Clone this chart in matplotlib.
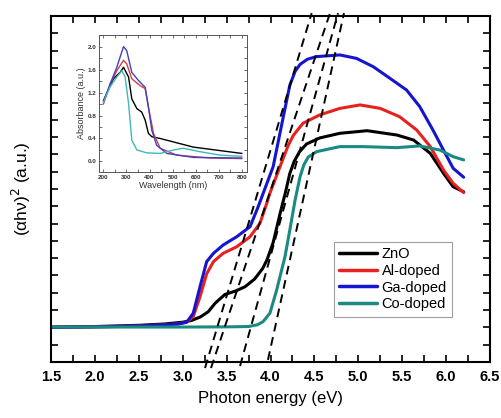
import matplotlib
matplotlib.use("Agg")
import matplotlib.pyplot as plt
from matplotlib.ticker import MultipleLocator

plt.rcParams['font.family'] = ['Liberation Sans', 'DejaVu Sans']

# ---------------- main data ----------------
series_names = ["ZnO", "Al-doped", "Ga-doped", "Co-doped"]
series_colors = ["#000000", "#e8201e", "#1515d0", "#1a8a82"]

zno_e = [1.5, 2.0, 2.5, 2.8, 3.0, 3.1, 3.2, 3.29, 3.37, 3.48, 3.6, 3.71, 3.82, 3.91, 3.96,
         4.03, 4.11, 4.17, 4.22, 4.27, 4.33, 4.41, 4.56, 4.79, 5.10, 5.44, 5.63, 5.82, 5.97, 6.08, 6.20]
zno_y = [2.02, 2.05, 2.12, 2.2, 2.3, 2.4, 2.6, 2.9, 3.4, 3.9, 4.1, 4.35, 4.8, 5.4, 5.9,
         6.9, 8.6, 9.8, 10.9, 11.6, 12.15, 12.6, 12.95, 13.22, 13.37, 13.12, 12.83, 12.06, 10.91, 10.13, 9.84]

al_e = [1.5, 2.0, 2.5, 2.8, 2.95, 3.045, 3.12, 3.197, 3.273, 3.35, 3.46, 3.615, 3.767, 3.88,
        3.957, 3.994, 4.108, 4.20, 4.26, 4.37, 4.56, 4.79, 5.02, 5.25, 5.47, 5.665, 5.82, 5.97, 6.08, 6.20]
al_y = [2.0, 2.03, 2.08, 2.15, 2.2, 2.3, 2.62, 3.77, 5.1, 5.8, 6.28, 6.66, 7.24, 8.02,
        9.17, 9.77, 11.29, 12.5, 13.1, 13.8, 14.28, 14.66, 14.86, 14.66, 14.18, 13.41, 12.45, 11.10, 10.33, 9.79]

ga_e = [1.5, 2.0, 2.5, 2.8, 2.95, 3.045, 3.12, 3.197, 3.273, 3.35, 3.46, 3.615, 3.767, 3.86,
        3.918, 4.03, 4.146, 4.22, 4.28, 4.336, 4.42, 4.52, 4.79, 4.98, 5.17, 5.36, 5.55, 5.70, 5.85, 5.97, 6.08, 6.20]
ga_y = [2.0, 2.03, 2.08, 2.15, 2.2, 2.3, 2.82, 4.35, 5.8, 6.28, 6.76, 7.24, 7.82, 8.98,
        9.77, 11.29, 14.18, 16.0, 16.8, 17.2, 17.5, 17.65, 17.75, 17.55, 17.07, 16.40, 15.72, 14.76, 13.41, 12.25, 11.20, 10.68]

co_e = [1.5, 3.0, 3.5, 3.75, 3.85, 3.915, 3.994, 4.07, 4.165, 4.22, 4.28, 4.336, 4.38, 4.43, 4.526,
        4.79, 5.05, 5.44, 5.70, 5.93, 6.08, 6.20]
co_y = [2.02, 2.02, 2.03, 2.05, 2.15, 2.33, 2.83, 4.16, 6.09, 7.63, 9.36, 10.7, 11.4, 11.85, 12.16,
        12.45, 12.45, 12.39, 12.49, 12.25, 11.87, 11.68]

# tangent (Tauc fit) lines: endpoints (E, y)
fit_e0 = [3.254, 3.322, 3.653, 3.971]
fit_y0 = [-0.35, -0.35, -0.23, 0.12]
fit_e1 = [4.469, 4.678, 4.769, 4.837]
fit_y1 = [20.17, 20.17, 20.17, 20.17]

# ---------------- inset data ----------------
in_ga_wl = [200, 229, 258, 287, 301, 323, 352, 381, 395, 410, 431, 475, 590, 800]
in_ga_a = [1.03, 1.35, 1.64, 2.0, 1.93, 1.55, 1.41, 1.29, 0.95, 0.54, 0.28, 0.14, 0.07, 0.06]
in_al_wl = [200, 229, 258, 287, 301, 323, 359, 381, 395, 417, 446, 518, 663, 800]
in_al_a = [1.0, 1.35, 1.58, 1.76, 1.70, 1.44, 1.32, 1.27, 0.95, 0.49, 0.23, 0.11, 0.06, 0.05]
in_zno_wl = [200, 243, 272, 287, 309, 323, 345, 366, 381, 395, 410, 446, 590, 800]
in_zno_a = [1.06, 1.44, 1.55, 1.64, 1.47, 1.09, 0.92, 0.86, 0.72, 0.49, 0.43, 0.40, 0.25, 0.14]
in_co_wl = [200, 229, 258, 280, 294, 309, 323, 345, 388, 446, 504, 547, 619, 706, 800]
in_co_a = [1.03, 1.3, 1.47, 1.58, 1.47, 1.01, 0.37, 0.20, 0.15, 0.14, 0.20, 0.23, 0.17, 0.11, 0.09]
inset_colors = ["#000000", "#d8403a", "#4040c0", "#40b8b8"]

x_ticks = [1.5, 2.0, 2.5, 3.0, 3.5, 4.0, 4.5, 5.0, 5.5, 6.0, 6.5]

fig = plt.figure(figsize=(5.02, 4.18), dpi=100)
ax = fig.add_axes([0.1016, 0.134, 0.8745, 0.8277])

mains = [(zno_e, zno_y), (al_e, al_y), (ga_e, ga_y), (co_e, co_y)]
for (e, y), name, c in zip(mains, series_names, series_colors):
    ax.plot(e, y, color=c, lw=2.2, label=name, solid_capstyle='round', solid_joinstyle='round')

for e0, y0, e1, y1 in zip(fit_e0, fit_y0, fit_e1, fit_y1):
    ax.plot([e0, e1], [y0, y1], color='black', lw=1.4, ls=(0, (4.5, 3)), clip_on=False, zorder=5)

ax.set_xlim(1.5, 6.5)
ax.set_ylim(0, 20)
ax.set_xticks(x_ticks)
ax.set_xticklabels([f"{t:.1f}" for t in x_ticks], fontweight='bold', fontsize=10.5)
ax.xaxis.set_minor_locator(MultipleLocator(0.25))
ax.yaxis.set_major_locator(MultipleLocator(1))
ax.tick_params(which='both', direction='in', top=True, right=True, length=5, width=1.2)
ax.tick_params(axis='x', which='major', pad=6)
ax.tick_params(axis='y', which='both', labelleft=False)
for s in ax.spines.values():
    s.set_linewidth(1.5)
ax.set_xlabel("Photon energy (eV)", fontsize=12, labelpad=5)
ax.set_ylabel("(αhν)$^2$ (a.u.)", fontsize=12.5, labelpad=13)

leg = ax.legend(loc='upper left', bbox_to_anchor=(0.645, 0.348), fontsize=10.5,
                frameon=True, fancybox=False, edgecolor='#888888', handlelength=2.6,
                handletextpad=0.3, borderpad=0.35, labelspacing=0.2, borderaxespad=0)
leg.get_frame().set_linewidth(0.8)
for h in leg.get_lines():
    h.set_linewidth(2.5)

# inset
ins = fig.add_axes([0.1978, 0.589, 0.2948, 0.327])
insets = [(in_zno_wl, in_zno_a), (in_al_wl, in_al_a), (in_ga_wl, in_ga_a), (in_co_wl, in_co_a)]
for (w, a), c in zip(insets, inset_colors):
    ins.plot(w, a, color=c, lw=1.0, solid_joinstyle='round')
ins.set_xlim(182, 824)
ins.set_ylim(-0.18, 2.2)
ins.set_xticks([200, 300, 400, 500, 600, 700, 800])
ins.set_yticks([0.0, 0.4, 0.8, 1.2, 1.6, 2.0])
ins.set_yticklabels(["0.0", "0.4", "0.8", "1.2", "1.6", "2.0"])
ins.xaxis.set_minor_locator(MultipleLocator(50))
ins.yaxis.set_minor_locator(MultipleLocator(0.2))
ins.tick_params(which='both', direction='in', top=True, right=True, labelsize=4.5, length=2,
                width=0.5, pad=2, colors='#333333')
for lab in ins.get_xticklabels() + ins.get_yticklabels():
    lab.set_fontweight('bold')
for s in ins.spines.values():
    s.set_linewidth(0.7)
    s.set_color('#555555')
ins.set_xlabel("Wavelength (nm)", fontsize=6.5, labelpad=1, color='#333333')
ins.set_ylabel("Absorbance (a.u.)", fontsize=6.5, labelpad=1, color='#333333')

fig.savefig("out.png", dpi=100)
